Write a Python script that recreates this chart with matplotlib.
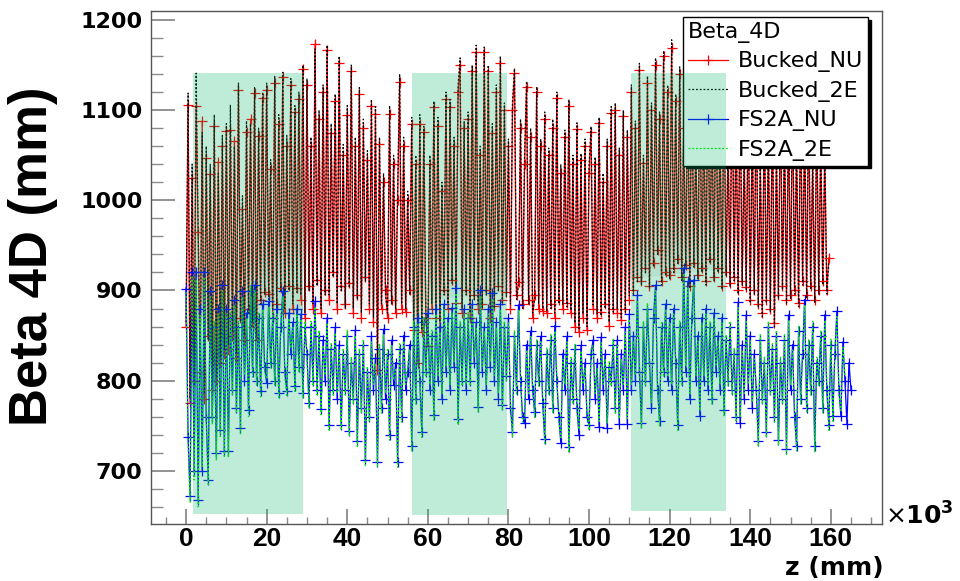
import numpy as np
import matplotlib.pyplot as plt
from matplotlib.patches import Rectangle
from matplotlib.ticker import MultipleLocator

# samples every 0.5 x10^3 mm along z, starting at z = 0
z_step = 0.5

# Beta 4D (mm), one row = 10 x10^3 mm
bucked_nu = [
    860, 1106, 775, 1025, 800, 1105, 965, 810, 1088, 780, 1047, 850, 1029, 790, 1083, 800, 1043, 820, 1060, 830,
    1077, 835, 1078, 850, 1066, 825, 1122, 870, 990, 845, 1076, 880, 1090, 860, 1119, 845, 1071, 890, 1114, 898,
    1122, 896, 1035, 870, 1130, 885, 1085, 903, 1137, 875, 1060, 905, 1128, 880, 1098, 903, 1112, 890, 1146, 870,
    1128, 905, 1060, 880, 1173, 912, 1090, 875, 1120, 900, 1167, 890, 1075, 920, 1110, 880, 1152, 905, 1050, 885,
    1095, 908, 1143, 875, 1060, 895, 1118, 870, 1080, 915, 1045, 880, 1105, 865, 1096, 812, 1062, 880, 1020, 900,
    870, 1096, 890, 1040, 875, 1000, 1131, 880, 1060, 876, 1000, 900, 1085, 856, 1040, 820, 1085, 854, 1076, 870,
    838, 1040, 880, 1103, 870, 1083, 860, 1010, 900, 1112, 880, 1104, 912, 1060, 886, 1120, 1150, 875, 1080, 900,
    1090, 870, 1144, 895, 1165, 880, 1050, 885, 1164, 900, 1144, 870, 1075, 883, 1120, 905, 1152, 890, 1100, 898,
    1060, 880, 1100, 1141, 895, 909, 1080, 885, 1040, 1126, 890, 1070, 870, 895, 1120, 880, 1060, 877, 1090, 875,
    1050, 885, 1080, 870, 1114, 890, 1030, 880, 1070, 886, 1105, 875, 1040, 860, 1079, 854, 1045, 870, 1060, 856,
    1030, 1076, 880, 1040, 870, 1086, 876, 1020, 885, 1060, 861, 1097, 880, 1100, 875, 1050, 867, 1093, 880, 1070,
    890, 1120, 900, 1080, 915, 1145, 910, 1041, 925, 1130, 905, 1100, 930, 1150, 945, 1090, 910, 1160, 920, 1120,
    917, 1169, 925, 1110, 935, 1140, 915, 1080, 928, 1125, 905, 1150, 930, 1060, 917, 1135, 925, 1095, 910, 1140,
    935, 1100, 915, 1150, 925, 1075, 905, 1130, 920, 1060, 908, 1155, 915, 1090, 900, 1120, 910, 1050, 904, 1110,
    890, 1080, 900, 1125, 885, 1040, 875, 1100, 890, 1065, 880, 1110, 864, 1050, 895, 1115, 905, 1070, 890, 1095,
    895, 1120, 900, 1060, 886, 1105, 910, 1075, 895, 1110, 905, 1040, 890, 1090, 900, 1060, 910, 1050, 900, 936,
]

bucked_2e = [
    865, 1119, 780, 1040, 795, 1141, 970, 815, 1075, 785, 1060, 845, 1040, 795, 1095, 805, 1030, 825, 1072, 835,
    1085, 840, 1106, 855, 1060, 830, 1130, 865, 1005, 850, 1088, 875, 1085, 865, 1125, 850, 1080, 885, 1120, 895,
    1130, 890, 1045, 875, 1138, 880, 1095, 900, 1142, 880, 1072, 900, 1135, 885, 1105, 898, 1120, 895, 1150, 875,
    1135, 900, 1070, 885, 1168, 905, 1100, 880, 1128, 895, 1172, 895, 1085, 915, 1118, 885, 1160, 900, 1062, 880,
    1105, 903, 1150, 880, 1070, 890, 1125, 875, 1090, 910, 1055, 885, 1112, 870, 1104, 818, 1070, 885, 1030, 895,
    875, 1105, 885, 1050, 880, 1010, 1140, 885, 1070, 880, 1010, 895, 1092, 860, 1050, 826, 1095, 858, 1082, 875,
    842, 1050, 885, 1110, 875, 1092, 865, 1020, 895, 1120, 885, 1112, 908, 1070, 890, 1128, 1158, 880, 1088, 895,
    1098, 875, 1150, 890, 1172, 885, 1060, 880, 1170, 895, 1150, 875, 1085, 880, 1128, 900, 1160, 885, 1108, 893,
    1068, 885, 1110, 1146, 890, 905, 1090, 880, 1050, 1132, 885, 1080, 875, 890, 1126, 885, 1068, 880, 1098, 878,
    1058, 880, 1090, 875, 1120, 885, 1040, 884, 1078, 882, 1112, 878, 1050, 864, 1086, 858, 1052, 874, 1068, 860,
    1040, 1082, 884, 1048, 874, 1092, 872, 1030, 880, 1068, 865, 1104, 876, 1108, 879, 1058, 870, 1100, 876, 1078,
    894, 1128, 896, 1088, 910, 1152, 906, 1050, 920, 1138, 902, 1108, 926, 1158, 940, 1098, 906, 1166, 916, 1128,
    913, 1178, 920, 1118, 930, 1148, 911, 1088, 924, 1132, 902, 1158, 926, 1068, 913, 1142, 920, 1103, 906, 1148,
    930, 1108, 911, 1158, 920, 1083, 901, 1138, 916, 1068, 904, 1162, 911, 1098, 896, 1128, 906, 1058, 900, 1118,
    886, 1088, 896, 1132, 881, 1048, 871, 1108, 886, 1073, 876, 1118, 860, 1058, 891, 1122, 901, 1078, 886, 1103,
    891, 1128, 896, 1068, 882, 1112, 906, 1083, 891, 1118, 901, 1048, 886, 1098, 896, 1068, 906, 1058, 896, 930,
]

fs2a_nu = [
    902, 738, 672, 921, 700, 921, 668, 880, 700, 921, 760, 690, 899, 760, 860, 720, 880, 745, 906, 722,
    880, 722, 870, 790, 890, 770, 860, 748, 899, 800, 875, 767, 899, 810, 906, 800, 870, 789, 885, 815,
    797, 888, 820, 870, 800, 880, 786, 860, 899, 810, 788, 875, 830, 865, 794, 880, 815, 874, 786, 860,
    830, 775, 860, 800, 888, 790, 850, 768, 845, 800, 870, 751, 835, 790, 859, 780, 840, 751, 830, 790,
    850, 744, 820, 780, 856, 733, 830, 770, 840, 712, 810, 760, 849, 790, 825, 710, 835, 770, 857, 780,
    830, 740, 845, 795, 820, 710, 835, 760, 850, 790, 810, 840, 728, 860, 780, 870, 800, 743, 865, 810,
    875, 790, 850, 762, 880, 800, 860, 780, 885, 810, 870, 790, 881, 815, 903, 757, 860, 800, 880, 790,
    870, 800, 885, 820, 865, 771, 900, 810, 860, 790, 880, 815, 897, 800, 865, 780, 885, 773, 860, 805,
    870, 770, 743, 850, 790, 884, 800, 760, 753, 840, 780, 855, 790, 765, 840, 800, 849, 775, 735, 830,
    790, 845, 770, 861, 800, 760, 731, 830, 790, 849, 726, 820, 780, 835, 770, 740, 839, 790, 820, 760,
    751, 830, 845, 780, 820, 749, 848, 790, 830, 747, 815, 800, 840, 770, 845, 752, 830, 790, 860, 752,
    874, 790, 850, 800, 895, 810, 753, 860, 800, 880, 820, 770, 870, 906, 790, 755, 860, 810, 885, 800,
    870, 790, 880, 820, 751, 860, 800, 925, 810, 910, 780, 870, 912, 800, 850, 761, 870, 800, 880, 790,
    860, 780, 875, 810, 850, 790, 870, 767, 845, 800, 860, 790, 830, 760, 887, 753, 840, 780, 873, 790,
    850, 770, 830, 790, 733, 845, 780, 820, 743, 860, 790, 835, 760, 850, 734, 820, 780, 845, 724, 873,
    790, 840, 760, 728, 855, 780, 830, 890, 770, 840, 790, 860, 727, 820, 800, 850, 770, 873, 790, 751,
    840, 761, 830, 877, 790, 761, 843, 800, 752, 820, 790,
]

fs2a_2e = [
    898, 730, 665, 915, 690, 912, 660, 872, 705, 915, 755, 685, 893, 752, 866, 712, 874, 738, 900, 716,
    874, 715, 876, 783, 884, 764, 866, 741, 893, 806, 869, 760, 905, 804, 900, 794, 876, 782, 879, 808,
    803, 882, 814, 876, 794, 874, 780, 866, 893, 804, 782, 869, 836, 859, 788, 874, 809, 868, 780, 866,
    824, 769, 866, 794, 882, 784, 856, 762, 839, 806, 864, 745, 841, 784, 853, 786, 834, 745, 836, 784,
    856, 738, 826, 774, 850, 727, 836, 764, 846, 706, 816, 754, 843, 796, 819, 704, 841, 764, 851, 786,
    836, 734, 839, 801, 814, 704, 841, 754, 844, 796, 816, 834, 722, 866, 774, 864, 806, 737, 871, 804,
    869, 796, 856, 756, 874, 806, 854, 786, 879, 816, 864, 796, 875, 821, 897, 751, 866, 794, 874, 796,
    876, 794, 879, 826, 859, 765, 894, 816, 854, 796, 874, 821, 891, 806, 859, 786, 879, 767, 866, 799,
    864, 776, 737, 856, 784, 878, 806, 754, 759, 834, 786, 849, 796, 759, 846, 794, 843, 781, 729, 836,
    784, 851, 764, 855, 806, 754, 737, 824, 796, 843, 720, 826, 774, 841, 764, 746, 833, 796, 814, 766,
    745, 836, 839, 786, 814, 755, 842, 796, 824, 753, 821, 794, 846, 764, 839, 758, 824, 796, 854, 758,
    868, 796, 844, 806, 889, 816, 747, 866, 794, 886, 814, 776, 864, 900, 796, 749, 866, 804, 879, 806,
    864, 796, 874, 826, 745, 866, 794, 919, 816, 904, 786, 864, 906, 806, 844, 767, 864, 806, 874, 796,
    866, 774, 869, 816, 844, 796, 864, 761, 851, 794, 866, 784, 836, 754, 881, 759, 834, 786, 867, 796,
    844, 776, 824, 796, 727, 851, 774, 826, 737, 866, 784, 841, 754, 856, 728, 826, 774, 851, 718, 867,
    796, 834, 766, 722, 861, 774, 836, 884, 764, 846, 784, 866, 721, 826, 794, 856, 764, 867, 796, 745,
    846, 755, 836, 871, 784, 767, 837, 806,
]

# shaded (green) z regions, x10^3 mm, and their vertical extent
box_start = [1.7, 56.1, 110.4]
box_end = [29.0, 79.7, 134.0]
box_top = 1141
box_bottom = [652, 651, 655]


def zgrid(vals):
    return z_step * np.arange(len(vals))


fig = plt.figure(figsize=(9.6, 5.81), dpi=100)
ax = fig.add_axes([151 / 960, 57 / 581, 731 / 960, 513 / 581])

# light grey fill of the Bucked_NU graph polygon
ax.fill(zgrid(bucked_nu), bucked_nu, color='#f1f1f1', lw=0, zorder=0.5)

ax.plot(zgrid(bucked_nu), bucked_nu, color='#ff0000', lw=0.9, marker='+',
        ms=7, mew=0.9, label='Bucked_NU', zorder=2)
ax.plot(zgrid(bucked_2e), bucked_2e, color='black', lw=0.9, dashes=(1.5, 1.5),
        label='Bucked_2E', zorder=3)
ax.plot(zgrid(fs2a_nu), fs2a_nu, color='#0000ff', lw=0.9, marker='+',
        ms=7, mew=0.9, label='FS2A_NU', zorder=4)
ax.plot(zgrid(fs2a_2e), fs2a_2e, color='#00ee00', lw=0.9, dashes=(1.5, 1.5),
        label='FS2A_2E', zorder=4.5)

for x0, x1, yb in zip(box_start, box_end, box_bottom):
    ax.add_patch(Rectangle((x0, yb), x1 - x0, box_top - yb, facecolor='#00b464',
                           alpha=0.25, lw=0, zorder=6))

ax.set_xlim(-8.7, 172.7)
ax.set_ylim(641, 1210)
ax.xaxis.set_major_locator(MultipleLocator(20))
ax.xaxis.set_minor_locator(MultipleLocator(5))
ax.yaxis.set_major_locator(MultipleLocator(100))
ax.yaxis.set_minor_locator(MultipleLocator(20))

ax.tick_params(axis='y', which='major', direction='in', length=17, width=1.3,
               color='#8a8a8a', pad=6)
ax.tick_params(axis='y', which='minor', direction='in', length=8.5, width=1.0,
               color='#8a8a8a')
ax.tick_params(axis='x', which='major', direction='in', length=11, width=1.3,
               color='#8a8a8a', pad=2)
ax.tick_params(axis='x', which='minor', direction='in', length=5, width=1.0,
               color='#8a8a8a')
for lab in ax.get_yticklabels():
    lab.set_fontfamily('DejaVu Sans')
    lab.set_fontweight('bold')
    lab.set_fontsize(16)
for lab in ax.get_xticklabels():
    lab.set_fontfamily('Liberation Sans')
    lab.set_fontweight('bold')
    lab.set_fontsize(19)

for s in ax.spines.values():
    s.set_color('#555555')
    s.set_linewidth(1.0)

leg = ax.legend(loc='upper left', bbox_to_anchor=(0.728, 0.988), borderaxespad=0,
                title='Beta_4D', alignment='left', fancybox=False, framealpha=1,
                edgecolor='black', shadow={'color': 'black', 'alpha': 1},
                prop={'family': 'DejaVu Sans', 'size': 16},
                title_fontproperties={'family': 'DejaVu Sans', 'size': 16},
                handlelength=1.8, handletextpad=0.45, labelspacing=0.38, borderpad=0.22)
leg.get_frame().set_linewidth(1.0)
leg.set_zorder(5)

fig.text(33 / 960, 1 - 256 / 581, 'Beta 4D (mm)', rotation=90, ha='center', va='center',
         family='Liberation Sans', weight='bold', fontsize=38)
fig.text(884 / 960, 1 - 568 / 581, 'z (mm)', ha='right', va='center',
         family='DejaVu Sans', weight='bold', fontsize=18)
fig.text(885 / 960, 1 - 516 / 581, r'$\times\mathbf{10^{3}}$', ha='left', va='center',
         fontsize=18)

fig.savefig('out.png', dpi=100)
